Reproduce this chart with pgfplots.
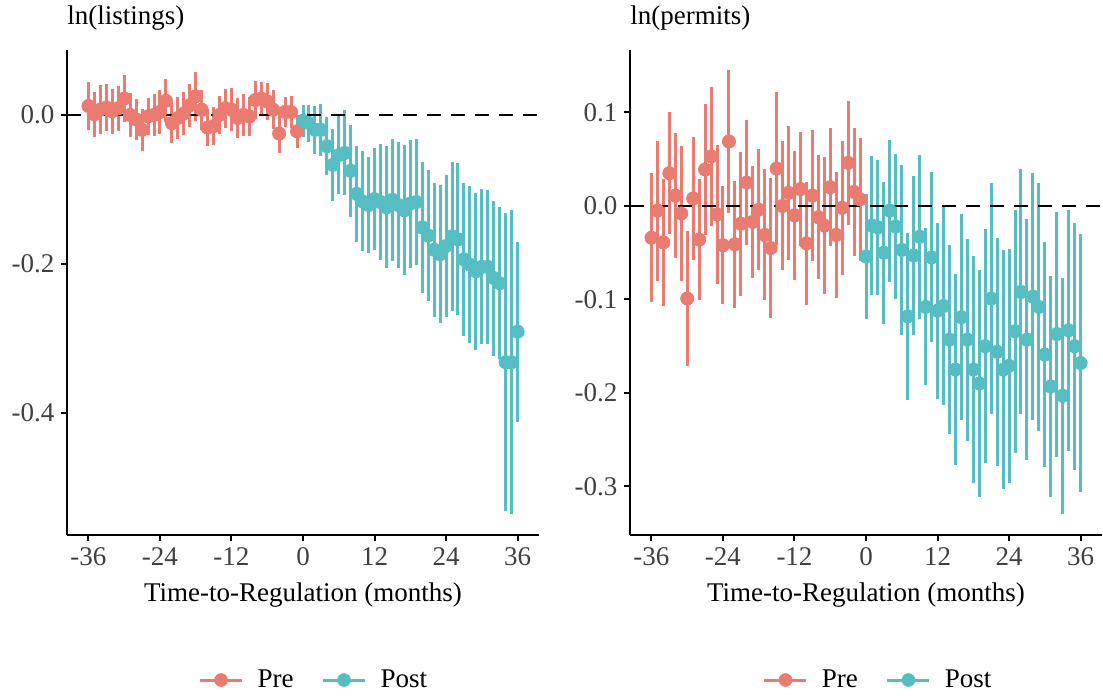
\documentclass[border=0pt]{standalone}
\usepackage{fontspec}
\setmainfont{Liberation Serif}
\usepackage{pgfplots}
\usepackage{pgfplotstable}
\pgfplotsset{compat=1.18}
\definecolor{prec}{RGB}{233,123,112}
\definecolor{postc}{RGB}{86,189,194}

% event-study estimates: t, coefficient, half-width of the CI
\pgfplotstableread{
t b e
-36 0.012 0.032
-35 0.001 0.030
-34 0.007 0.033
-33 0.010 0.032
-32 0.005 0.030
-31 0.009 0.030
-30 0.022 0.032
-29 0.000 0.030
-28 -0.006 0.027
-27 -0.020 0.028
-26 -0.002 0.025
-25 0.000 0.028
-24 0.004 0.030
-23 0.019 0.029
-22 -0.011 0.027
-21 -0.004 0.028
-20 0.002 0.029
-19 0.013 0.029
-18 0.025 0.033
-17 0.007 0.027
-16 -0.017 0.025
-15 -0.015 0.026
-14 0.000 0.026
-13 0.009 0.026
-12 0.007 0.029
-11 -0.004 0.027
-10 0.000 0.028
-9 -0.002 0.026
-8 0.020 0.026
-7 0.022 0.022
-6 0.018 0.025
-5 0.007 0.026
-4 -0.025 0.026
-3 0.004 0.020
-2 0.004 0.022
-1 -0.022 0.022
}\lpre
\pgfplotstableread{
t b e
0 -0.008 0.022
1 -0.011 0.025
2 -0.020 0.032
3 -0.020 0.035
4 -0.042 0.039
5 -0.067 0.048
6 -0.054 0.052
7 -0.051 0.057
8 -0.075 0.062
9 -0.106 0.064
10 -0.116 0.067
11 -0.121 0.065
12 -0.113 0.069
13 -0.117 0.078
14 -0.124 0.082
15 -0.114 0.082
16 -0.121 0.085
17 -0.128 0.087
18 -0.119 0.086
19 -0.117 0.085
20 -0.151 0.088
21 -0.162 0.088
22 -0.181 0.090
23 -0.187 0.093
24 -0.176 0.095
25 -0.163 0.100
26 -0.167 0.102
27 -0.194 0.103
28 -0.201 0.105
29 -0.210 0.105
30 -0.204 0.104
31 -0.204 0.103
32 -0.219 0.104
33 -0.226 0.102
34 -0.332 0.200
35 -0.332 0.204
36 -0.291 0.121
}\lpost
\pgfplotstableread{
t b e
-36 -0.034 0.069
-35 -0.005 0.075
-34 -0.039 0.068
-33 0.035 0.065
-32 0.011 0.067
-31 -0.008 0.072
-30 -0.099 0.072
-29 0.008 0.066
-28 -0.036 0.065
-27 0.039 0.070
-26 0.053 0.074
-25 -0.009 0.074
-24 -0.042 0.063
-23 0.069 0.076
-22 -0.041 0.068
-21 -0.019 0.077
-20 0.025 0.067
-19 -0.017 0.060
-18 -0.004 0.065
-17 -0.031 0.070
-16 -0.045 0.075
-15 0.040 0.082
-14 0.000 0.069
-13 0.014 0.072
-12 -0.010 0.069
-11 0.018 0.061
-10 -0.040 0.066
-9 0.011 0.070
-8 -0.012 0.066
-7 -0.021 0.073
-6 0.020 0.063
-5 -0.031 0.067
-4 -0.002 0.072
-3 0.046 0.066
-2 0.015 0.068
-1 0.007 0.066
}\rpre
\pgfplotstableread{
t b e
0 -0.054 0.067
1 -0.021 0.074
2 -0.023 0.072
3 -0.050 0.076
4 -0.005 0.076
5 -0.022 0.078
6 -0.047 0.091
7 -0.118 0.089
8 -0.053 0.085
9 -0.033 0.088
10 -0.108 0.084
11 -0.055 0.091
12 -0.112 0.094
13 -0.107 0.106
14 -0.143 0.101
15 -0.175 0.102
16 -0.119 0.110
17 -0.143 0.108
18 -0.175 0.121
19 -0.190 0.121
20 -0.150 0.125
21 -0.099 0.124
22 -0.156 0.122
23 -0.175 0.128
24 -0.171 0.125
25 -0.134 0.130
26 -0.092 0.131
27 -0.143 0.129
28 -0.097 0.132
29 -0.108 0.133
30 -0.159 0.120
31 -0.193 0.118
32 -0.137 0.131
33 -0.203 0.126
34 -0.133 0.129
35 -0.150 0.132
36 -0.168 0.138
}\rpost

\pgfplotsset{
  panel/.style={
    scale only axis, width=236pt, height=242.5pt,
    xmin=-39.6, xmax=39.6,
    clip=false,
    axis lines=left,
    axis line style={-, line width=1pt, black},
    tick align=outside, major tick length=2.8pt,
    tick style={line width=1pt, black},
    xtick={-36,-24,-12,0,12,24,36},
    xticklabels={-36,-24,-12,0,12,24,36},
    font=\fontsize{13.5}{16}\selectfont,
    ticklabel style={font=\fontsize{13.5}{16}\selectfont, text=black!75},
    legend columns=2,
    legend style={draw=none, fill=none, font=\fontsize{13.5}{16}\selectfont,
      anchor=center,
      /tikz/every odd column/.append style={column sep=5pt},
      /tikz/every even column/.append style={column sep=12pt}},
    legend image code/.code={
      \draw[##1, line width=1.5pt] (0pt,0pt) -- (21pt,0pt);
      \fill[##1] (10.5pt,0pt) circle (3.2pt);},
  },
  est/.style={only marks, mark=*, mark size=3.3pt, color=#1, forget plot,
    error bars/.cd, y dir=both, y explicit, error mark=none,
    error bar style={line width=1.5pt, color=#1}},
  zeroline/.style={black, line width=1.2pt, dash pattern=on 7pt off 5pt, forget plot},
}

\begin{document}
\begin{tikzpicture}
\path[use as bounding box] (0,0) rectangle (551.5pt,348pt);

\begin{axis}[panel, at={(33.5pt,80.5pt)}, anchor=south west,
  ymin=-0.564, ymax=0.0872,
  ytick={-0.4,-0.2,0}, yticklabels={-0.4,-0.2,0.0},
  legend style={at={(axis description cs:0.525,-0.299)}}]
\addplot[est=prec] table[x=t, y=b, y error=e] {\lpre};
\addplot[est=postc] table[x=t, y=b, y error=e] {\lpost};
\addplot[zeroline] coordinates {(-39.6,0) (39.6,0)};
\addlegendimage{color=prec}
\addlegendentry{Pre}
\addlegendimage{color=postc}
\addlegendentry{Post}
\node[anchor=west, inner sep=0pt] at (rel axis cs:0,1) [yshift=16pt] {ln(listings)};
\node at (rel axis cs:0.5,0) [yshift=-30pt] {Time-to-Regulation (months)};
\end{axis}

\begin{axis}[panel, at={(315pt,80.5pt)}, anchor=south west,
  ymin=-0.3519, ymax=0.1668,
  ytick={-0.3,-0.2,-0.1,0,0.1}, yticklabels={-0.3,-0.2,-0.1,0.0,0.1},
  legend style={at={(axis description cs:0.528,-0.299)}}]
\addplot[est=prec] table[x=t, y=b, y error=e] {\rpre};
\addplot[est=postc] table[x=t, y=b, y error=e] {\rpost};
\addplot[zeroline] coordinates {(-39.6,0) (39.6,0)};
\addlegendimage{color=prec}
\addlegendentry{Pre}
\addlegendimage{color=postc}
\addlegendentry{Post}
\node[anchor=west, inner sep=0pt] at (rel axis cs:0,1) [yshift=16pt] {ln(permits)};
\node at (rel axis cs:0.5,0) [yshift=-30pt] {Time-to-Regulation (months)};
\end{axis}
\end{tikzpicture}
\end{document}
